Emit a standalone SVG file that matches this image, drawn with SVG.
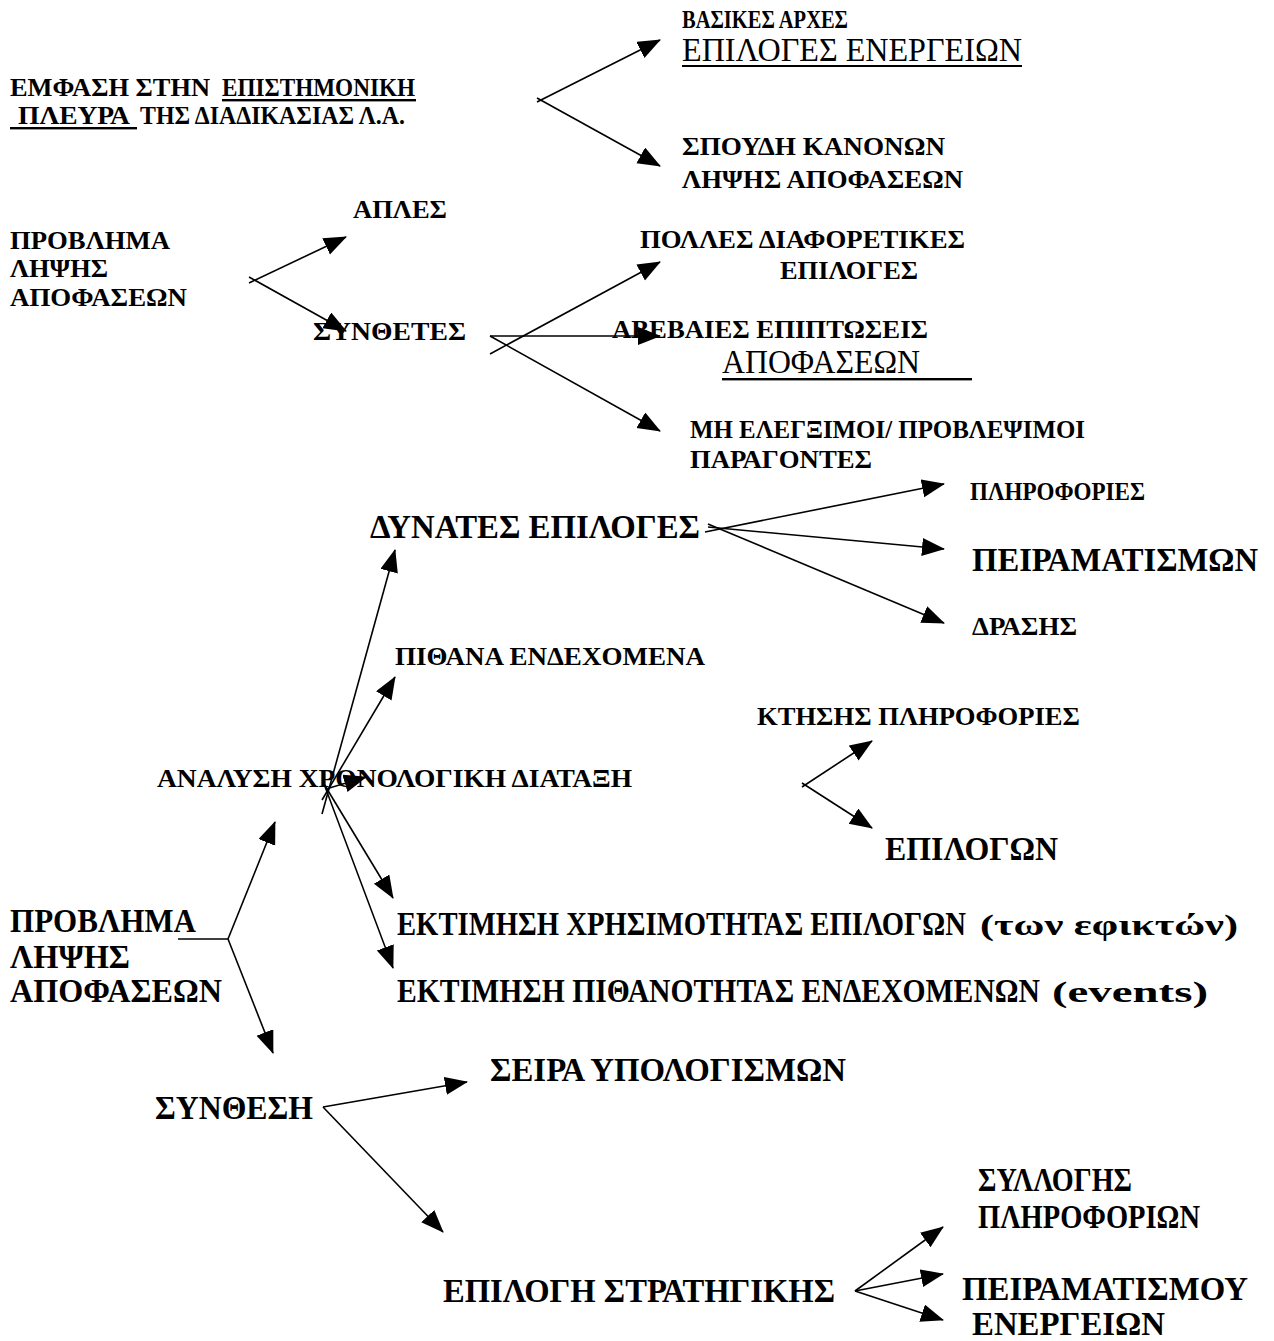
<svg xmlns="http://www.w3.org/2000/svg" width="1274" height="1341" viewBox="0 0 1274 1341">
  <defs>
    <marker id="arrow" markerUnits="userSpaceOnUse" markerWidth="26" markerHeight="20" refX="22" refY="9" orient="auto">
      <path d="M0,0 L23,9 L0,18 z" fill="#000"/>
    </marker>
    <style>
      text { font-family: "Liberation Serif", "Times New Roman", serif; fill: #000; }
      .b { font-weight: bold; }
      .s { font-size: 26px; }
      .l { font-size: 34px; }
      .r { font-size: 33px; font-weight: normal; }
      .p { font-size: 29px; }
      .c line { stroke: #000; stroke-width: 1.6; fill: none; }
      .c line.a { marker-end: url(#arrow); }
      .u { fill: #000; }
    </style>
  </defs>
  <rect width="1274" height="1341" fill="#fff"/>

  <!-- nodes -->
  <g id="n-emfasi">
    <text class="b s" y="96"><tspan x="10" textLength="200" lengthAdjust="spacingAndGlyphs">ΕΜΦΑΣΗ ΣΤΗΝ</tspan><tspan x="222" textLength="193" lengthAdjust="spacingAndGlyphs">ΕΠΙΣΤΗΜΟΝΙΚΗ</tspan></text>
    <text class="b s" y="124"><tspan x="18" textLength="112" lengthAdjust="spacingAndGlyphs">ΠΛΕΥΡΑ</tspan><tspan x="140" textLength="265" lengthAdjust="spacingAndGlyphs">ΤΗΣ ΔΙΑΔΙΚΑΣΙΑΣ Λ.Α.</tspan></text>
    <rect class="u" x="222" y="99" width="194" height="2.4"/>
    <rect class="u" x="10" y="127" width="127" height="2.4"/>
  </g>
  <g id="n-vasikes">
    <text class="b s" x="682" y="28" textLength="166" lengthAdjust="spacingAndGlyphs">ΒΑΣΙΚΕΣ ΑΡΧΕΣ</text>
    <text class="r" x="682" y="61" textLength="340" lengthAdjust="spacingAndGlyphs">ΕΠΙΛΟΓΕΣ ΕΝΕΡΓΕΙΩΝ</text>
    <rect class="u" x="682" y="65" width="340" height="2"/>
  </g>
  <g id="n-spoudi">
    <text class="b s" x="682" y="155" textLength="263" lengthAdjust="spacingAndGlyphs">ΣΠΟΥΔΗ ΚΑΝΟΝΩΝ</text>
    <text class="b s" x="682" y="188" textLength="281" lengthAdjust="spacingAndGlyphs">ΛΗΨΗΣ ΑΠΟΦΑΣΕΩΝ</text>
  </g>
  <g id="n-provlima-1">
    <text class="b s" x="10" y="249" textLength="160" lengthAdjust="spacingAndGlyphs">ΠΡΟΒΛΗΜΑ</text>
    <text class="b s" x="10" y="277" textLength="98" lengthAdjust="spacingAndGlyphs">ΛΗΨΗΣ</text>
    <text class="b s" x="10" y="306" textLength="177" lengthAdjust="spacingAndGlyphs">ΑΠΟΦΑΣΕΩΝ</text>
  </g>
  <g id="n-aples">
    <text class="b s" x="353" y="218" textLength="94" lengthAdjust="spacingAndGlyphs">ΑΠΛΕΣ</text>
  </g>
  <g id="n-synthetes">
    <text class="b s" x="313" y="340" textLength="153" lengthAdjust="spacingAndGlyphs">ΣΥΝΘΕΤΕΣ</text>
  </g>
  <g id="n-polles">
    <text class="b s" x="640" y="248" textLength="325" lengthAdjust="spacingAndGlyphs">ΠΟΛΛΕΣ ΔΙΑΦΟΡΕΤΙΚΕΣ</text>
    <text class="b s" x="780" y="279" textLength="138" lengthAdjust="spacingAndGlyphs">ΕΠΙΛΟΓΕΣ</text>
  </g>
  <g id="n-avevaies">
    <text class="b s" x="612" y="338" textLength="316" lengthAdjust="spacingAndGlyphs">ΑΒΕΒΑΙΕΣ ΕΠΙΠΤΩΣΕΙΣ</text>
    <text class="r" x="722" y="373" textLength="198" lengthAdjust="spacingAndGlyphs">ΑΠΟΦΑΣΕΩΝ</text>
    <rect class="u" x="722" y="378" width="250" height="2.4"/>
  </g>
  <g id="n-mi-elegximoi">
    <text class="b s" x="690" y="438" textLength="395" lengthAdjust="spacingAndGlyphs">ΜΗ ΕΛΕΓΞΙΜΟΙ/ ΠΡΟΒΛΕΨΙΜΟΙ</text>
    <text class="b s" x="690" y="468" textLength="182" lengthAdjust="spacingAndGlyphs">ΠΑΡΑΓΟΝΤΕΣ</text>
  </g>
  <g id="n-dynates">
    <text class="b l" x="370" y="538" textLength="330" lengthAdjust="spacingAndGlyphs">ΔΥΝΑΤΕΣ ΕΠΙΛΟΓΕΣ</text>
  </g>
  <g id="n-plirofories">
    <text class="b s" x="970" y="500" textLength="175" lengthAdjust="spacingAndGlyphs">ΠΛΗΡΟΦΟΡΙΕΣ</text>
  </g>
  <g id="n-peiramatismon">
    <text class="b l" x="972" y="571" textLength="286" lengthAdjust="spacingAndGlyphs">ΠΕΙΡΑΜΑΤΙΣΜΩΝ</text>
  </g>
  <g id="n-drasis">
    <text class="b s" x="972" y="635" textLength="105" lengthAdjust="spacingAndGlyphs">ΔΡΑΣΗΣ</text>
  </g>
  <g id="n-pithana">
    <text class="b s" x="395" y="665" textLength="310" lengthAdjust="spacingAndGlyphs">ΠΙΘΑΝΑ ΕΝΔΕΧΟΜΕΝΑ</text>
  </g>
  <g id="n-analysi">
    <text class="b s" x="157" y="787" textLength="475" lengthAdjust="spacingAndGlyphs">ΑΝΑΛΥΣΗ  ΧΡΟΝΟΛΟΓΙΚΗ ΔΙΑΤΑΞΗ</text>
  </g>
  <g id="n-ktisis">
    <text class="b s" x="757" y="725" textLength="323" lengthAdjust="spacingAndGlyphs">ΚΤΗΣΗΣ ΠΛΗΡΟΦΟΡΙΕΣ</text>
  </g>
  <g id="n-epilogon">
    <text class="b l" x="885" y="860" textLength="173" lengthAdjust="spacingAndGlyphs">ΕΠΙΛΟΓΩΝ</text>
  </g>
  <g id="n-provlima-2">
    <text class="b l" x="10" y="932" textLength="186" lengthAdjust="spacingAndGlyphs">ΠΡΟΒΛΗΜΑ</text>
    <text class="b l" x="10" y="968" textLength="120" lengthAdjust="spacingAndGlyphs">ΛΗΨΗΣ</text>
    <text class="b l" x="10" y="1002" textLength="212" lengthAdjust="spacingAndGlyphs">ΑΠΟΦΑΣΕΩΝ</text>
  </g>
  <g id="n-ektimisi-xrisimotitas">
    <text class="b l" y="935"><tspan x="397" textLength="569" lengthAdjust="spacingAndGlyphs">ΕΚΤΙΜΗΣΗ ΧΡΗΣΙΜΟΤΗΤΑΣ ΕΠΙΛΟΓΩΝ</tspan><tspan class="p" x="980" textLength="258" lengthAdjust="spacingAndGlyphs">(των εφικτών)</tspan></text>
  </g>
  <g id="n-ektimisi-pithanotitas">
    <text class="b l" y="1002"><tspan x="397" textLength="643" lengthAdjust="spacingAndGlyphs">ΕΚΤΙΜΗΣΗ ΠΙΘΑΝΟΤΗΤΑΣ ΕΝΔΕΧΟΜΕΝΩΝ</tspan><tspan class="p" x="1052" textLength="156" lengthAdjust="spacingAndGlyphs">(events)</tspan></text>
  </g>
  <g id="n-seira">
    <text class="b l" x="490" y="1081" textLength="356" lengthAdjust="spacingAndGlyphs">ΣΕΙΡΑ ΥΠΟΛΟΓΙΣΜΩΝ</text>
  </g>
  <g id="n-synthesi">
    <text class="b l" x="155" y="1119" textLength="158" lengthAdjust="spacingAndGlyphs">ΣΥΝΘΕΣΗ</text>
  </g>
  <g id="n-syllogis">
    <text class="b l" x="978" y="1191" textLength="154" lengthAdjust="spacingAndGlyphs">ΣΥΛΛΟΓΗΣ</text>
    <text class="b l" x="978" y="1228" textLength="222" lengthAdjust="spacingAndGlyphs">ΠΛΗΡΟΦΟΡΙΩΝ</text>
  </g>
  <g id="n-epilogi-strategikis">
    <text class="b l" x="443" y="1302" textLength="392" lengthAdjust="spacingAndGlyphs">ΕΠΙΛΟΓΗ ΣΤΡΑΤΗΓΙΚΗΣ</text>
  </g>
  <g id="n-peiramatismou">
    <text class="b l" x="962" y="1300" textLength="286" lengthAdjust="spacingAndGlyphs">ΠΕΙΡΑΜΑΤΙΣΜΟΥ</text>
    <text class="b l" x="972" y="1335" textLength="193" lengthAdjust="spacingAndGlyphs">ΕΝΕΡΓΕΙΩΝ</text>
  </g>

  <!-- connectors -->
  <g id="connectors" class="c">
    <line class="a" x1="537" y1="102" x2="660" y2="40"/>
    <line class="a" x1="537" y1="98" x2="660" y2="166"/>

    <line class="a" x1="249" y1="283" x2="346" y2="237"/>
    <line class="a" x1="249" y1="277" x2="346" y2="331"/>

    <line class="a" x1="490" y1="336" x2="660" y2="336"/>
    <line class="a" x1="490" y1="354" x2="660" y2="262"/>
    <line class="a" x1="490" y1="336" x2="660" y2="431"/>

    <line class="a" x1="705" y1="532" x2="944" y2="484"/>
    <line class="a" x1="708" y1="527" x2="944" y2="549"/>
    <line class="a" x1="708" y1="524" x2="944" y2="623"/>

    <line class="a" x1="322" y1="814" x2="395" y2="550"/>
    <line class="a" x1="322" y1="800" x2="395" y2="677"/>
    <line class="a" x1="326" y1="789" x2="366" y2="777"/>
    <line class="a" x1="324" y1="784" x2="393" y2="898"/>
    <line class="a" x1="324" y1="784" x2="393" y2="968"/>

    <line x1="178" y1="939" x2="228" y2="939"/>
    <line class="a" x1="228" y1="939" x2="275" y2="822"/>
    <line class="a" x1="228" y1="939" x2="273" y2="1053"/>

    <line class="a" x1="802" y1="787" x2="872" y2="741"/>
    <line class="a" x1="802" y1="783" x2="872" y2="828"/>

    <line class="a" x1="323" y1="1107" x2="467" y2="1082"/>
    <line class="a" x1="323" y1="1107" x2="443" y2="1232"/>

    <line class="a" x1="855" y1="1291" x2="943" y2="1227"/>
    <line class="a" x1="855" y1="1291" x2="943" y2="1274"/>
    <line class="a" x1="855" y1="1291" x2="943" y2="1320"/>
  </g>
</svg>
